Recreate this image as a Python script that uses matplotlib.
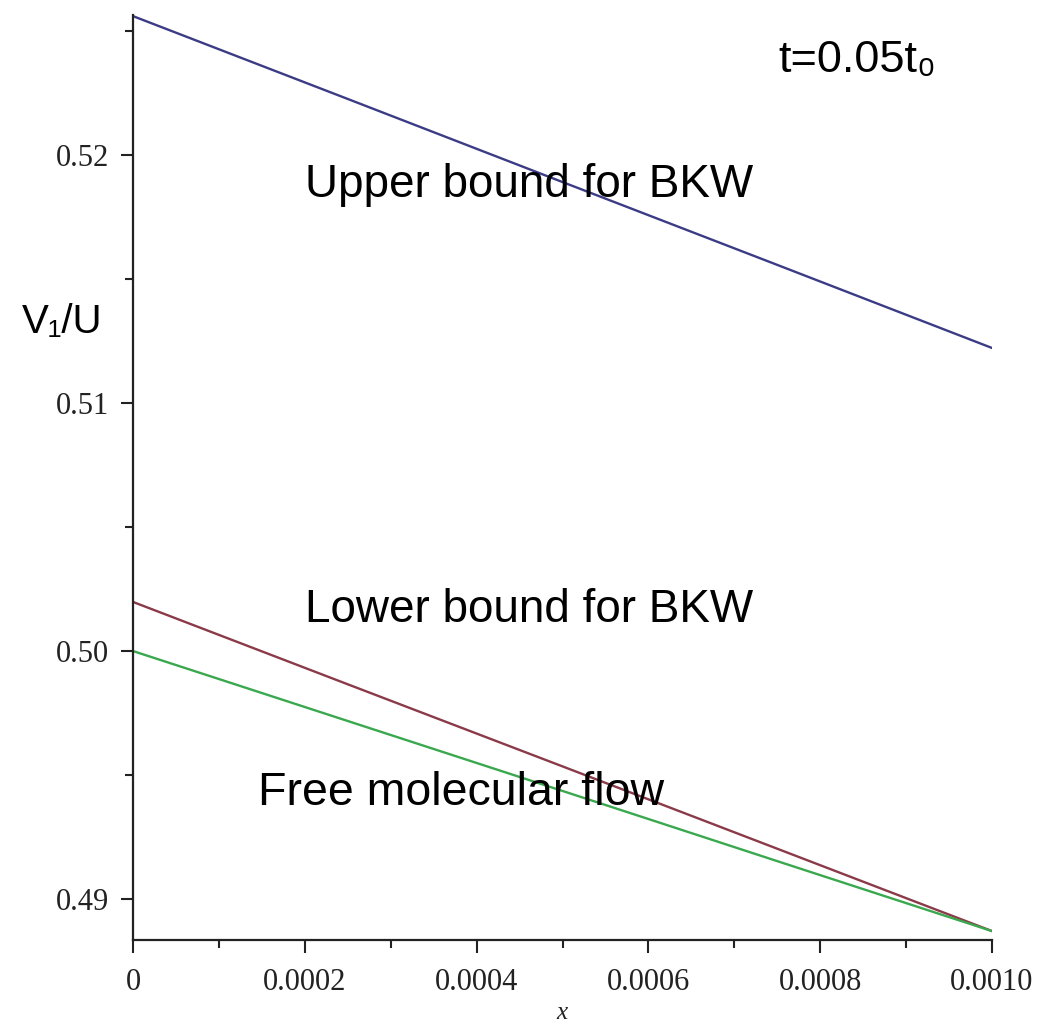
import matplotlib
matplotlib.use("Agg")
import matplotlib.pyplot as plt
from matplotlib.ticker import MultipleLocator, FixedLocator, FixedFormatter

# Data
x_vals = [0.0, 0.00025, 0.0005, 0.00075, 0.001]
upper_bkw = [0.5256, 0.52226, 0.51891, 0.51557, 0.51222]
lower_bkw = [0.50198, 0.49866, 0.49535, 0.49203, 0.48871]
free_flow = [0.5000, 0.49718, 0.49436, 0.49153, 0.48871]

x_ticks = [0, 0.0002, 0.0004, 0.0006, 0.0008, 0.0010]
x_tick_labels = ["0", "0.0002", "0.0004", "0.0006", "0.0008", "0.0010"]
y_ticks = [0.49, 0.50, 0.51, 0.52]
y_tick_labels = ["0.49", "0.50", "0.51", "0.52"]

W, H = 1041, 1028
fig = plt.figure(figsize=(W / 100, H / 100), dpi=100)
ax = fig.add_axes([133 / W, 1 - 940 / H, (992 - 133) / W, (940 - 15) / H])

ax.plot(x_vals, upper_bkw, color="#3c3c86", lw=1.7)
ax.plot(x_vals, lower_bkw, color="#8a3a48", lw=1.7)
ax.plot(x_vals, free_flow, color="#3aa84e", lw=1.7)

ax.set_xlim(0, 0.001)
ax.set_ylim(0.48835, 0.525645)

for s in ("top", "right"):
    ax.spines[s].set_visible(False)
for s in ("left", "bottom"):
    ax.spines[s].set_linewidth(1.6)
    ax.spines[s].set_color("#222222")

ax.xaxis.set_major_locator(FixedLocator(x_ticks))
ax.xaxis.set_major_formatter(FixedFormatter(x_tick_labels))
ax.xaxis.set_minor_locator(MultipleLocator(0.0001))
ax.yaxis.set_major_locator(FixedLocator(y_ticks))
ax.yaxis.set_major_formatter(FixedFormatter(y_tick_labels))
ax.yaxis.set_minor_locator(MultipleLocator(0.005))

ax.tick_params(which="major", length=9, width=1.5, color="#222222", direction="out",
               labelsize=22, labelcolor="#222222", labelfontfamily="Liberation Serif")
ax.tick_params(which="minor", length=6, width=1.5, color="#222222", direction="out")
ax.tick_params(axis="x", which="major", pad=11)
ax.tick_params(axis="y", which="major", pad=8)

fig.text(562 / W, 1 - 1013 / H, "x", fontsize=18, family="Liberation Serif",
         style="italic", ha="center", va="center", color="#222222")

sans = ["Liberation Sans", "DejaVu Sans"]
fig.text(22 / W, 1 - 333 / H, "V₁/U", fontsize=29, family=sans, ha="left", va="baseline")
fig.text(778 / W, 1 - 72 / H, "t=0.05t₀", fontsize=32.5, family=sans, ha="left", va="baseline")
fig.text(305 / W, 1 - 197 / H, "Upper bound for BKW", fontsize=33, family=sans, ha="left", va="baseline")
fig.text(305 / W, 1 - 622 / H, "Lower bound for BKW", fontsize=33, family=sans, ha="left", va="baseline")
fig.text(258 / W, 1 - 805 / H, "Free molecular flow", fontsize=33.5, family=sans, ha="left", va="baseline")

fig.savefig("out.png", dpi=100)
